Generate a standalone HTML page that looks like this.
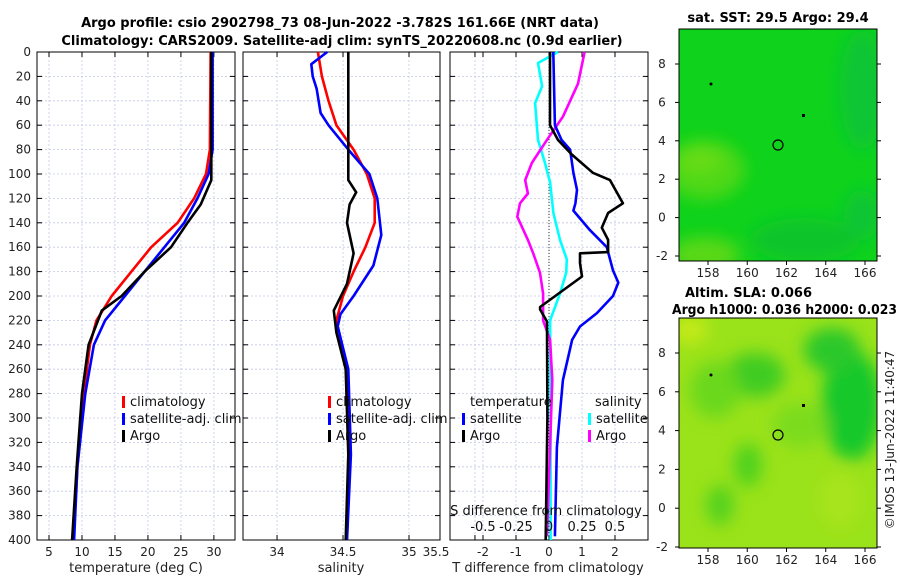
<!DOCTYPE html>
<html><head><meta charset="utf-8">
<style>
html,body{margin:0;padding:0;background:#fff;}
svg{display:block;font-family:"DejaVu Sans","Liberation Sans",sans-serif;}
</style></head>
<body>
<svg id="fig" width="900" height="580" viewBox="0 0 900 580" xmlns="http://www.w3.org/2000/svg">
<defs>
<filter id="blur" x="-20%" y="-20%" width="140%" height="140%"><feGaussianBlur stdDeviation="8"/></filter>
<clipPath id="clipTop"><rect x="679" y="29" width="198" height="232"/></clipPath>
<clipPath id="clipBot"><rect x="679" y="318" width="198" height="230"/></clipPath>
</defs>
<text x="340" y="27" text-anchor="middle" font-size="13" font-weight="bold">Argo profile: csio 2902798_73 08-Jun-2022 -3.782S 161.66E (NRT data)</text>
<text x="342" y="45" text-anchor="middle" font-size="13" font-weight="bold">Climatology: CARS2009. Satellite-adj clim: synTS_20220608.nc (0.9d earlier)</text>

<g id="mapTop">
<g clip-path="url(#clipTop)">
<rect x="679" y="29" width="198" height="232" fill="#0ed21c"/>
<g filter="url(#blur)">
<ellipse cx="705" cy="170" rx="40" ry="30" fill="#4ed816"/>
<ellipse cx="700" cy="160" rx="22" ry="14" fill="#66dc12"/>
<ellipse cx="705" cy="255" rx="35" ry="18" fill="#5ad814"/>
<ellipse cx="805" cy="240" rx="55" ry="22" fill="#0cc52c"/>
<ellipse cx="862" cy="90" rx="22" ry="60" fill="#0cc534"/>
<ellipse cx="862" cy="215" rx="18" ry="25" fill="#0cc536"/>
</g>
</g>
<rect x="679" y="29" width="198" height="232" fill="none" stroke="#000" stroke-width="1"/>
<circle cx="778" cy="145" r="5" fill="none" stroke="#000" stroke-width="1.2"/>
<circle cx="711" cy="84" r="1.5" fill="#000"/>
<rect x="802" y="114" width="3" height="3" fill="#000"/>
</g>
<text x="778" y="22" text-anchor="middle" font-size="13" font-weight="bold">sat. SST: 29.5 Argo: 29.4</text>

<g id="mapBot">
<g clip-path="url(#clipBot)">
<rect x="679" y="318" width="198" height="230" fill="#9ae21a"/>
<g filter="url(#blur)">
<ellipse cx="755" cy="375" rx="30" ry="22" fill="#3fcc22"/>
<ellipse cx="852" cy="405" rx="30" ry="55" fill="#18c82a"/>
<ellipse cx="832" cy="350" rx="28" ry="22" fill="#2cc82a"/>
<ellipse cx="715" cy="390" rx="25" ry="28" fill="#6ad81c"/>
<ellipse cx="748" cy="465" rx="14" ry="22" fill="#50d21e"/>
<ellipse cx="720" cy="505" rx="14" ry="20" fill="#55d21e"/>
<ellipse cx="800" cy="425" rx="28" ry="22" fill="#7cdc1c"/>
<ellipse cx="690" cy="330" rx="18" ry="14" fill="#c4ea18"/>
<ellipse cx="840" cy="500" rx="20" ry="28" fill="#a8e41a"/>
</g>
</g>
<rect x="679" y="318" width="198" height="230" fill="none" stroke="#000" stroke-width="1"/>
<circle cx="778" cy="435" r="5" fill="none" stroke="#000" stroke-width="1.2"/>
<circle cx="711" cy="375" r="1.5" fill="#000"/>
<rect x="802" y="404" width="3" height="3" fill="#000"/>
</g>
<text x="685" y="297" font-size="13" font-weight="bold">Altim. SLA: 0.066</text>
<text x="672" y="314" font-size="13" font-weight="bold" textLength="225" lengthAdjust="spacingAndGlyphs">Argo h1000: 0.036 h2000: 0.023</text>
<text transform="translate(894,440) rotate(-90)" text-anchor="middle" font-size="12" fill="#222">©IMOS 13-Jun-2022 11:40:47</text>
</svg>
<script>
// ---- data ----
const depthTicks = [0,20,40,60,80,100,120,140,160,180,200,220,240,260,280,300,320,340,360,380,400];
const tempTicks = [5,10,15,20,25,30];
const salTicks = [34,34.5,35,35.5];
const tdiffTicks = [-2,-1,0,1,2];
const sdiffTicks = [-0.5,-0.25,0,0.25,0.5];
const lonTicks = [158,160,162,164,166];
const latTicks = [8,6,4,2,0,-2];

const tClimDepth = [0,80,100,120,140,160,180,200,220,240,280,340,400];
const tClimVal   = [29.5,29.4,28.8,27,24.5,20.5,17.5,14.5,12.2,11.2,10.3,9.3,8.7];
const tSatDepth  = [0,80,100,120,140,160,180,200,220,240,280,340,400];
const tSatVal    = [29.8,29.8,29.2,27.5,25.5,22.5,19.5,16.5,13.5,11.8,10.5,9.3,8.8];
const tArgoDepth = [0,100,105,125,140,160,170,180,200,212,240,280,340,400];
const tArgoVal   = [29.6,29.6,29.6,28,26,23.5,21.5,19.5,16,13,11,10,9.2,8.5];

const sClimDepth = [0,20,40,60,80,100,120,140,160,180,200,220,260,330,400];
const sClimVal   = [34.31,34.34,34.39,34.45,34.58,34.68,34.74,34.74,34.67,34.58,34.5,34.45,34.53,34.55,34.53];
const sSatDepth  = [0,10,20,30,50,60,80,100,120,150,175,200,215,225,260,330,400];
const sSatVal    = [34.38,34.26,34.27,34.3,34.33,34.39,34.54,34.7,34.76,34.79,34.73,34.58,34.48,34.46,34.54,34.56,34.53];
const sArgoDepth = [0,105,115,125,140,165,190,212,230,260,330,400];
const sArgoVal   = [34.54,34.54,34.6,34.55,34.53,34.58,34.53,34.43,34.45,34.52,34.54,34.52];

const dtArgoDepth = [0,60,72,84,99,105,124,132,144,154,164,165,173,184,209,211,221,300,400];
const dtArgoVal   = [0.03,0.03,0.27,0.69,1.33,1.85,2.24,1.79,1.6,1.79,1.79,0.94,0.94,1.0,-0.27,-0.27,-0.06,-0.05,-0.1];
const dtSatDepth  = [0,60,72,80,99,113,124,130,146,160,179,189,200,214,225,236,269,324,397];
const dtSatVal    = [0.13,0.18,0.38,0.64,0.74,0.85,0.8,0.74,1.24,1.75,1.94,2.1,1.94,1.45,0.94,0.7,0.42,0.24,0.18];
const dsSatDepth  = [0,9,28,42,72,91,107,132,154,170,181,198,220,300,400];
const dsSatVal    = [0.068,-0.083,-0.052,-0.105,-0.083,-0.03,0.008,0.033,0.083,0.135,0.13,0.083,0.008,0.012,0.012];
const dsArgoDepth = [0,26,53,72,91,105,116,124,135,154,165,181,198,220,236,269,397];
const dsArgoVal   = [0.27,0.22,0.105,-0.015,-0.13,-0.18,-0.16,-0.22,-0.24,-0.16,-0.12,-0.068,-0.045,-0.045,0.008,0.025,-0.015];

// ---- layout ----
const svg = document.getElementById('fig');
const NS = 'http://www.w3.org/2000/svg';
const Y0 = 52, Y1 = 540;
const yD = d => Y0 + (Y1 - Y0) * d / 400;
function mk(tag, attrs, parent){ const e=document.createElementNS(NS,tag); for(const k in attrs) e.setAttribute(k,attrs[k]); (parent||svg).appendChild(e); return e; }
function txt(x,y,s,attrs,parent){ const e=mk('text',Object.assign({x:x,y:y,'font-size':12,fill:'#222'},attrs||{}),parent); e.textContent=s; return e; }

function panel(name,x0,x1,xmin,xmax,xticks,fmt){
  const g = mk('g',{});
  
  
  const xs = v => x0 + (x1-x0)*(v-xmin)/(xmax-xmin);
  for(const d of depthTicks){ const l=mk('line',{x1:x0,x2:x1,y1:yD(d),y2:yD(d),stroke:'#c4c8e6','stroke-width':0.8,'stroke-dasharray':'2,2'},g);
      }
  for(const v of xticks){ const l=mk('line',{x1:xs(v),x2:xs(v),y1:Y0,y2:Y1,stroke:'#c4c8e6','stroke-width':0.8,'stroke-dasharray':'2,2'},g);
      }
  for(const d of depthTicks){
    mk('line',{x1:x0,x2:x0+5,y1:yD(d),y2:yD(d),stroke:'#000'},g);
    mk('line',{x1:x1-5,x2:x1,y1:yD(d),y2:yD(d),stroke:'#000'},g);
  }
  for(const v of xticks){
    mk('line',{x1:xs(v),x2:xs(v),y1:Y1,y2:Y1-5,stroke:'#000'},g);
    mk('line',{x1:xs(v),x2:xs(v),y1:Y0,y2:Y0+5,stroke:'#000'},g);
    if(fmt){ const lx = Math.min(xs(v), x1-4);
      const t=txt(lx,556,fmt(v),{'text-anchor':'middle'},g);
        }
  }
  const fr = mk('rect',{x:x0,y:Y0,width:x1-x0,height:Y1-Y0,fill:'none',stroke:'#000','stroke-width':1},g);
   
  return {g,xs};
}
function line(p,depths,vals,color,name,scale){
  const sc = scale||1;
  const pts = depths.map((d,i)=>p.xs(vals[i]*sc).toFixed(1)+','+yD(d).toFixed(1)).join(' ');
  const pl = mk('polyline',{points:pts,fill:'none',stroke:color,'stroke-width':2.6,'stroke-linejoin':'round'},p.g);
  
  
}
function legend(p,x,y,items){
  items.forEach((it,i)=>{
    const r = mk('rect',{x:x,y:y+i*17-10,width:3,height:12,fill:it[1]},p.g);
     
    const t = txt(x+8,y+i*17,it[0],{'font-size':13,fill:'#111'},p.g);
     
  });
}

// Panel 1: temperature
const p1 = panel('temperature-panel',37,235,3.18,33.2,tempTicks,v=>String(v));
for(const d of depthTicks){ const t=txt(31,yD(d)+4,String(d),{'text-anchor':'end'},p1.g);
    }
line(p1,tClimDepth,tClimVal,'#f00','temp-climatology-line');
line(p1,tSatDepth,tSatVal,'#00f','temp-satellite-line');
line(p1,tArgoDepth,tArgoVal,'#000','temp-argo-line');
legend(p1,122,406,[['climatology','#f00'],['satellite-adj. clim','#00f'],['Argo','#000']]);
const xl1 = txt(136,572,'temperature (deg C)',{'text-anchor':'middle','font-size':13});
 

// Panel 2: salinity
const p2 = panel('salinity-panel',243,440,33.742,35.235,salTicks,v=>String(v));
line(p2,sClimDepth,sClimVal,'#f00','sal-climatology-line');
line(p2,sSatDepth,sSatVal,'#00f','sal-satellite-line');
line(p2,sArgoDepth,sArgoVal,'#000','sal-argo-line');
legend(p2,328,406,[['climatology','#f00'],['satellite-adj. clim','#00f'],['Argo','#000']]);
const xl2 = txt(341,572,'salinity',{'text-anchor':'middle','font-size':13});
 

// Panel 3: differences
const p3 = panel('difference-panel',450,648,-3,3,tdiffTicks,v=>String(v));
const zl = mk('line',{x1:p3.xs(0),x2:p3.xs(0),y1:Y0,y2:Y1,stroke:'#333','stroke-width':1,'stroke-dasharray':'1,2'},p3.g);
 
line(p3,dsSatDepth,dsSatVal,'#0ff','sdiff-satellite-line',4);
line(p3,dsArgoDepth,dsArgoVal,'#f0f','sdiff-argo-line',4);
line(p3,dtSatDepth,dtSatVal,'#00f','tdiff-satellite-line');
line(p3,dtArgoDepth,dtArgoVal,'#000','tdiff-argo-line');
const lt = txt(470,406,'temperature',{'font-size':13,fill:'#111'},p3.g);
 
legend(p3,462,423,[['satellite','#00f'],['Argo','#000']]);
const ls = txt(595,406,'salinity',{'font-size':13,fill:'#111'},p3.g);
 
legend(p3,588,423,[['satellite','#0ff'],['Argo','#f0f']]);
const st = txt(546,515,'S difference from climatology',{'text-anchor':'middle','font-size':13,fill:'#111'},p3.g);
 
for(const v of sdiffTicks){ const t=txt(p3.xs(v*4),531,String(v),{'text-anchor':'middle','font-size':13,fill:'#111'},p3.g);
    }
const xl3 = txt(548,572,'T difference from climatology',{'text-anchor':'middle','font-size':13});
 

// Map axes
function mapAxes(x0,x1,y0,y1,lat8y,latm2y,name){
  const lonX = v => 708 + (v-158)*(865-708)/8;
  const latY = v => lat8y + (8-v)*(latm2y-lat8y)/10;
  const g = mk('g',{});
  
  
  for(const v of lonTicks){
    mk('line',{x1:lonX(v),x2:lonX(v),y1:y1,y2:y1+4,stroke:'#000'},g);
    const t=txt(lonX(v),y1+16,String(v),{'text-anchor':'middle'},g);
     
  }
  for(const v of latTicks){
    mk('line',{x1:x1,x2:x1+4,y1:latY(v),y2:latY(v),stroke:'#000'},g);
    mk('line',{x1:x0-4,x2:x0,y1:latY(v),y2:latY(v),stroke:'#000'},g);
    const t=txt(662,latY(v)+4,String(v),{'text-anchor':'middle'},g);
     
  }
}
mapAxes(679,877,29,261,64,256,'sst-map-axes');
mapAxes(679,877,318,548,353,547,'sla-map-axes');
</script>
</body></html>
